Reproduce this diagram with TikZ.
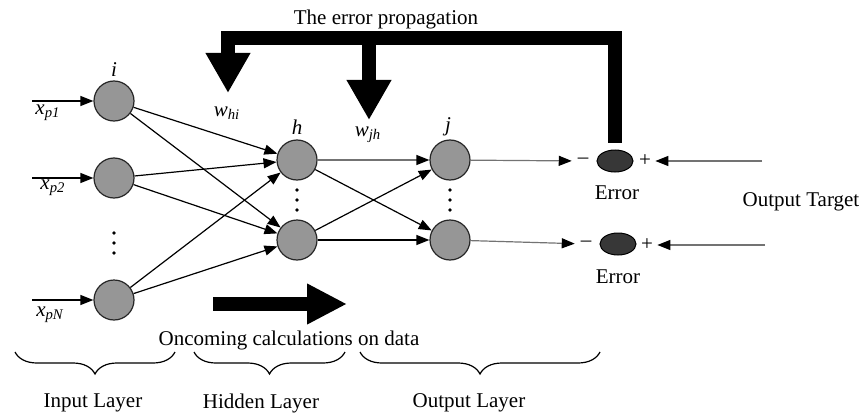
\documentclass[tikz,border=0pt]{standalone}
\usepackage{fontspec}
\setmainfont{Liberation Serif}
\usetikzlibrary{arrows.meta,positioning,decorations.pathreplacing,shapes.geometric}

\definecolor{neurongray}{RGB}{150,150,150}
\definecolor{errdark}{RGB}{55,55,55}
\definecolor{linegray}{RGB}{115,115,115}

\begin{document}
\begin{tikzpicture}[x=0.5pt,y=-0.5pt,
    font=\fontsize{10.5}{12}\selectfont,
    neuron/.style={circle,draw=black!85,line width=0.6pt,fill=neurongray,minimum size=20pt,inner sep=0pt},
    errnode/.style={ellipse,draw=black,line width=0.5pt,fill=errdark,minimum width=18pt,minimum height=11pt,inner sep=0pt},
    sig/.style={inner sep=2pt},
    minussig/.style={inner sep=2.8pt},
    conn/.style={line width=0.6pt,-{Triangle[length=6.5pt,width=5pt]}},
    grayconn/.style={conn,draw=linegray,-{Triangle[length=6.5pt,width=5pt,color=black]}},
    bigarrow/.style={line width=7pt,line join=miter,-{Triangle[length=20pt,width=21pt]}},
    layerbrace/.style={decorate,decoration={brace,mirror,amplitude=11pt},line width=0.6pt}]
    \useasboundingbox (0,0) rectangle (866,417);

    % neurons
    \node[neuron] (in1) at (114,101) {};
    \node[neuron] (in2) at (114,178) {};
    \node[neuron] (inN) at (114,300) {};
    \node[neuron] (hid1) at (297,160) {};
    \node[neuron] (hid2) at (297,240) {};
    \node[neuron] (out1) at (450,160) {};
    \node[neuron] (out2) at (450,240) {};

    % vertical dots
    \coordinate (dotsIn) at (114,243);
    \coordinate (dotsHid) at (297,200);
    \coordinate (dotsOut) at (450,200);
    \foreach \c in {dotsIn,dotsHid,dotsOut}
        \foreach \d in {-10,0,10}
            \fill ([yshift=\d*0.5pt]\c) circle (0.9pt);

    % error nodes
    \node[errnode] (err1) at (615,161) {};
    \node[minussig] (minus1) at (583,161) {–};
    \node[sig] (plus1) at (645,161) {+};
    \node[errnode] (err2) at (618,244) {};
    \node[minussig] (minus2) at (586,244) {–};
    \node[sig] (plus2) at (647,245) {+};

    % labels
    \node at (114,70) {\textit{i}};
    \node at (297,127) {\textit{h}};
    \node at (448,127) {\textit{j}};
    \node at (227,113) {\textit{w\textsubscript{hi}}};
    \node at (368,135) {\textit{w\textsubscript{jh}}};
    \node at (48,113) {\textit{x\textsubscript{p1}}};
    \node at (53,188) {\textit{x\textsubscript{p2}}};
    \node at (50,315) {\textit{x\textsubscript{pN}}};
    \node at (617,193) {Error};
    \node at (618,277) {Error};
    \node at (801,202) {Output Target};
    \node at (386,19) {The error propagation};
    \node at (289,340) {Oncoming calculations on data};
    \node at (93,403) {Input Layer};
    \node at (261,403) {Hidden Layer};
    \node at (469,403) {Output Layer};

    % inputs and targets
    \coordinate (src1) at (32,101);
    \coordinate (src2) at (32,178);
    \coordinate (srcN) at (32,300);
    \coordinate (tgt1) at (762,161);
    \coordinate (tgt2) at (765,245);
    \draw[conn] (src1) -- (in1);
    \draw[conn] (src2) -- (in2);
    \draw[conn] (srcN) -- (inN);
    \draw[grayconn] (tgt1) -- (plus1);
    \draw[grayconn] (tgt2) -- (plus2);

    % weights
    \foreach \a in {in1,in2,inN}
        \foreach \b in {hid1,hid2}
            \draw[conn] (\a) -- (\b);
    \draw[grayconn] (hid1) -- (out1);
    \draw[conn] (hid1) -- (out2);
    \draw[conn] (hid2) -- (out1);
    \draw[conn] (hid2) -- (out2);
    \draw[grayconn] (out1) -- (minus1);
    \draw[grayconn] (out2) -- (minus2);

    % error propagation
    \coordinate (fbLeft) at (228,38);
    \coordinate (whiTip) at (228,93);
    \coordinate (fbMid) at (369,40);
    \coordinate (wjhTip) at (369,120);
    \draw[bigarrow] ([yshift=3.5pt]err1.north) -- (err1 |- fbLeft) -- (fbLeft) -- (whiTip);
    \draw[bigarrow] (fbMid) -- (wjhTip);

    % forward pass
    \coordinate (calcStart) at (213,304);
    \coordinate (calcEnd) at (347,304);
    \draw[bigarrow,-{Triangle[length=20pt,width=19pt]}] (calcStart) -- (calcEnd);

    % layers
    \draw[layerbrace] (15,352) -- (175,352);
    \draw[layerbrace] (194,352) -- (345,352);
    \draw[layerbrace] (360,352) -- (600,352);
\end{tikzpicture}
\end{document}
